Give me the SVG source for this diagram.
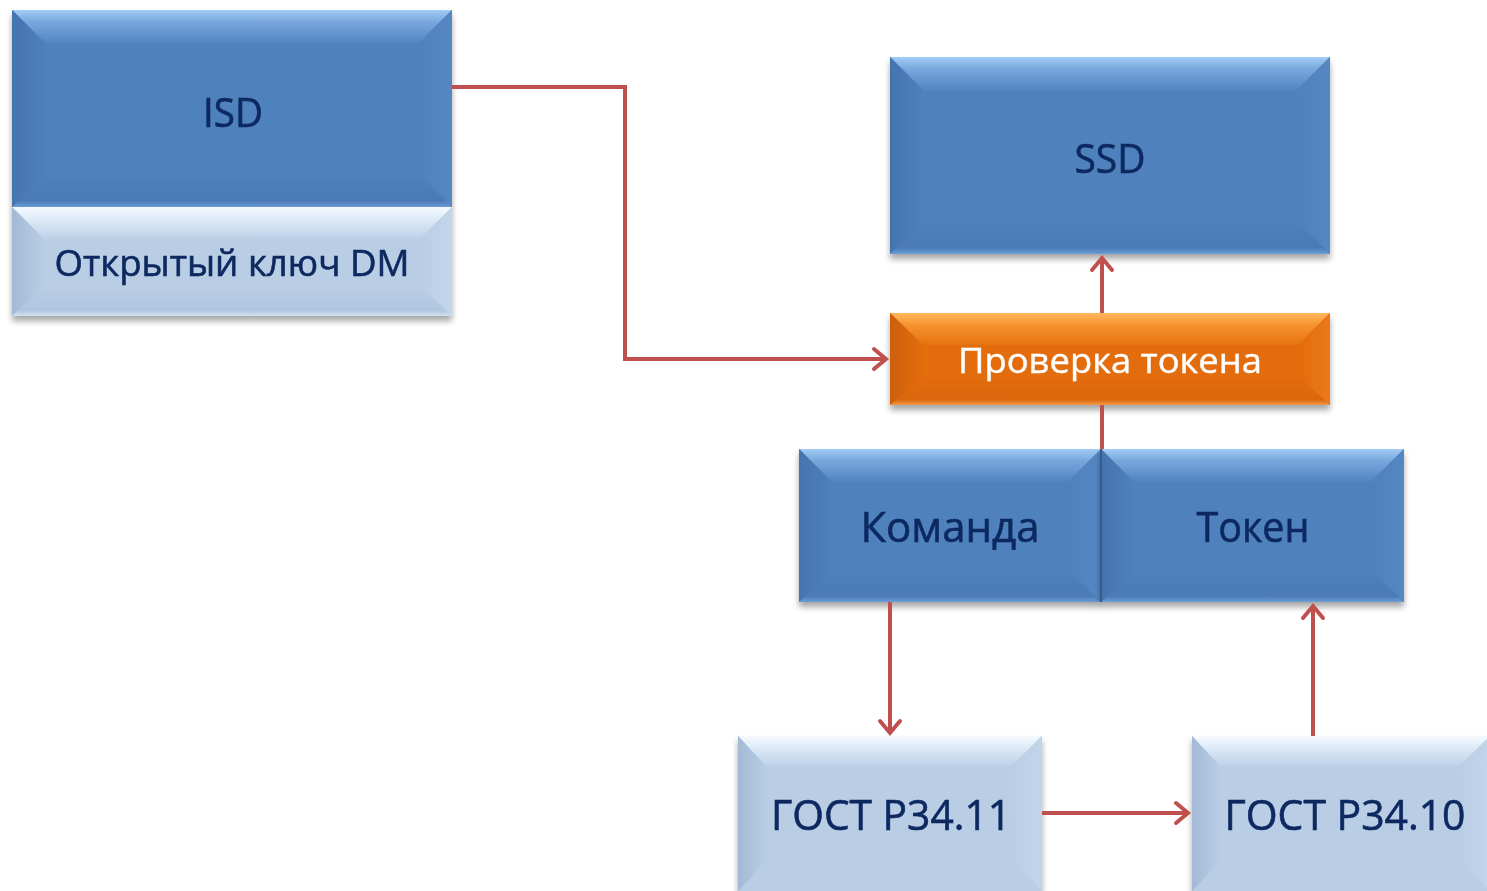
<svg xmlns="http://www.w3.org/2000/svg" width="1487" height="891" viewBox="0 0 1487 891">
  <defs>
    <style>
      .lbl { font-family: "Open Sans", "Noto Sans", "Liberation Sans", sans-serif; text-anchor: middle; fill: #0C2960; stroke: #0C2960; stroke-width: 0.6; }
      .wht { fill: #FFFFFF; stroke: #FFFFFF; stroke-width: 0.4; }
      .b-blue { fill: #4F81BD; }
      .b-lite { fill: #B9CDE5; }
      .b-org { fill: #E36C0A; }
      .conn { fill: none; stroke: #C0504D; stroke-width: 4; }
    </style>
    <!-- blue bevel faces -->
    <linearGradient id="gTopBlue" x1="0" y1="0" x2="0" y2="1">
      <stop offset="0" stop-color="#A3CCF5"/>
      <stop offset="0.35" stop-color="#78A7DD"/>
      <stop offset="1" stop-color="#5284C0"/>
    </linearGradient>
    <linearGradient id="gLeftBlue" x1="0" y1="0" x2="1" y2="0">
      <stop offset="0" stop-color="#4474AE"/>
      <stop offset="1" stop-color="#4F81BD"/>
    </linearGradient>
    <linearGradient id="gRightBlue" x1="0" y1="0" x2="1" y2="0">
      <stop offset="0" stop-color="#4F81BD"/>
      <stop offset="1" stop-color="#5687C3"/>
    </linearGradient>
    <linearGradient id="gBotBlue" x1="0" y1="0" x2="0" y2="1">
      <stop offset="0" stop-color="#4F81BD"/>
      <stop offset="0.8" stop-color="#4A7AB5"/>
      <stop offset="1" stop-color="#6D9DD5"/>
    </linearGradient>
    <!-- light bevel faces -->
    <linearGradient id="gTopLite" x1="0" y1="0" x2="0" y2="1">
      <stop offset="0" stop-color="#F6FAFF"/>
      <stop offset="0.4" stop-color="#DDEAF8"/>
      <stop offset="1" stop-color="#BCD0E7"/>
    </linearGradient>
    <linearGradient id="gLeftLite" x1="0" y1="0" x2="1" y2="0">
      <stop offset="0" stop-color="#A3B9D5"/>
      <stop offset="1" stop-color="#B9CDE5"/>
    </linearGradient>
    <linearGradient id="gRightLite" x1="0" y1="0" x2="1" y2="0">
      <stop offset="0" stop-color="#B9CDE5"/>
      <stop offset="1" stop-color="#C3D5EA"/>
    </linearGradient>
    <linearGradient id="gBotLite" x1="0" y1="0" x2="0" y2="1">
      <stop offset="0" stop-color="#B9CDE5"/>
      <stop offset="0.8" stop-color="#B0C5DF"/>
      <stop offset="1" stop-color="#D3E1F1"/>
    </linearGradient>
    <!-- orange bevel faces -->
    <linearGradient id="gTopOrg" x1="0" y1="0" x2="0" y2="1">
      <stop offset="0" stop-color="#FFB85E"/>
      <stop offset="0.4" stop-color="#F6912E"/>
      <stop offset="1" stop-color="#E6730F"/>
    </linearGradient>
    <linearGradient id="gLeftOrg" x1="0" y1="0" x2="1" y2="0">
      <stop offset="0" stop-color="#CD600A"/>
      <stop offset="1" stop-color="#E36C0A"/>
    </linearGradient>
    <linearGradient id="gRightOrg" x1="0" y1="0" x2="1" y2="0">
      <stop offset="0" stop-color="#E36C0A"/>
      <stop offset="1" stop-color="#E97A1C"/>
    </linearGradient>
    <linearGradient id="gBotOrg" x1="0" y1="0" x2="0" y2="1">
      <stop offset="0" stop-color="#E36C0A"/>
      <stop offset="0.8" stop-color="#DA6608"/>
      <stop offset="1" stop-color="#F29A4A"/>
    </linearGradient>
    <filter id="shadow" x="-10%" y="-10%" width="120%" height="130%">
      <feDropShadow dx="0" dy="5" stdDeviation="3" flood-color="#000000" flood-opacity="0.35"/>
    </filter>
    <marker id="arrow" markerUnits="userSpaceOnUse" viewBox="-16 -14 20 28" refX="0" refY="0" markerWidth="20" markerHeight="28" orient="auto" overflow="visible">
      <path d="M-12,-10 L0,0 L-12,10" fill="none" stroke="#C0504D" stroke-width="4" stroke-linecap="round" stroke-linejoin="miter"/>
    </marker>
  </defs>

  <rect width="1487" height="891" fill="#FFFFFF"/>

  <!-- ISD block with public key strip -->
  <g id="isd" filter="url(#shadow)">
    <rect class="b-blue" x="12" y="10" width="440" height="197"/>
    <polygon points="12,10 452,10 418,44 46,44" fill="url(#gTopBlue)"/>
    <polygon points="12,10 46,44 46,175 12,207" fill="url(#gLeftBlue)"/>
    <polygon points="452,10 452,207 420,175 418,44" fill="url(#gRightBlue)"/>
    <polygon points="12,207 46,175 420,175 452,207" fill="url(#gBotBlue)"/>
    <text class="lbl" x="233" y="127" font-size="41" textLength="60" lengthAdjust="spacingAndGlyphs">ISD</text>
  </g>
  <g id="isd-key" filter="url(#shadow)">
    <rect class="b-lite" x="12" y="207" width="440" height="109"/>
    <polygon points="12,207 452,207 420,239 44,239" fill="url(#gTopLite)"/>
    <polygon points="12,207 44,239 44,288 12,316" fill="url(#gLeftLite)"/>
    <polygon points="452,207 452,316 422,288 420,239" fill="url(#gRightLite)"/>
    <polygon points="12,316 44,288 422,288 452,316" fill="url(#gBotLite)"/>
    <text class="lbl" x="232" y="276" font-size="37" textLength="355" lengthAdjust="spacingAndGlyphs">Открытый ключ DM</text>
  </g>

  <!-- SSD -->
  <g id="ssd" filter="url(#shadow)">
    <rect class="b-blue" x="890" y="57" width="440" height="197"/>
    <polygon points="890,57 1330,57 1296,91 924,91" fill="url(#gTopBlue)"/>
    <polygon points="890,57 924,91 924,222 890,254" fill="url(#gLeftBlue)"/>
    <polygon points="1330,57 1330,254 1298,222 1296,91" fill="url(#gRightBlue)"/>
    <polygon points="890,254 924,222 1298,222 1330,254" fill="url(#gBotBlue)"/>
    <text class="lbl" x="1110" y="173" font-size="41" textLength="71" lengthAdjust="spacingAndGlyphs">SSD</text>
  </g>

  <!-- Token check -->
  <g id="check" filter="url(#shadow)">
    <rect class="b-org" x="890" y="313" width="440" height="92"/>
    <polygon points="890,313 1330,313 1298,345 923,345" fill="url(#gTopOrg)"/>
    <polygon points="890,313 923,345 923,378 890,405" fill="url(#gLeftOrg)"/>
    <polygon points="1330,313 1330,405 1300,378 1298,345" fill="url(#gRightOrg)"/>
    <polygon points="890,405 923,378 1300,378 1330,405" fill="url(#gBotOrg)"/>
    <text class="lbl wht" x="1110" y="373" font-size="35" textLength="304" lengthAdjust="spacingAndGlyphs">Проверка токена</text>
  </g>

  <!-- Command -->
  <g id="command" filter="url(#shadow)">
    <rect class="b-blue" x="799" y="449" width="302" height="153"/>
    <polygon points="799,449 1101,449 1068,482 832,482" fill="url(#gTopBlue)"/>
    <polygon points="799,449 832,482 832,572 799,602" fill="url(#gLeftBlue)"/>
    <polygon points="1101,449 1101,602 1070,572 1068,482" fill="url(#gRightBlue)"/>
    <polygon points="799,602 832,572 1070,572 1101,602" fill="url(#gBotBlue)"/>
    <text class="lbl" x="950" y="542" font-size="42" textLength="179" lengthAdjust="spacingAndGlyphs">Команда</text>
  </g>

  <!-- Token -->
  <g id="token" filter="url(#shadow)">
    <rect class="b-blue" x="1101" y="449" width="303" height="153"/>
    <polygon points="1101,449 1404,449 1371,482 1134,482" fill="url(#gTopBlue)"/>
    <polygon points="1101,449 1134,482 1134,572 1101,602" fill="url(#gLeftBlue)"/>
    <polygon points="1404,449 1404,602 1373,572 1371,482" fill="url(#gRightBlue)"/>
    <polygon points="1101,602 1134,572 1373,572 1404,602" fill="url(#gBotBlue)"/>
    <line x1="1101" y1="449" x2="1101" y2="602" stroke="#2E5386" stroke-width="1.5"/>
    <text class="lbl" x="1253" y="542" font-size="42" textLength="113" lengthAdjust="spacingAndGlyphs">Токен</text>
  </g>

  <!-- GOST R 34.11 -->
  <g id="gost3411" filter="url(#shadow)">
    <rect class="b-lite" x="738" y="736" width="304" height="160"/>
    <polygon points="738,736 1042,736 1012,766 766,766" fill="url(#gTopLite)"/>
    <polygon points="738,736 766,766 766,862 738,891" fill="url(#gLeftLite)"/>
    <polygon points="1042,736 1042,891 1014,862 1012,766" fill="url(#gRightLite)"/>
    <text class="lbl" x="891" y="830" font-size="42" textLength="240" lengthAdjust="spacingAndGlyphs">ГОСТ Р34.11</text>
  </g>

  <!-- GOST R 34.10 -->
  <g id="gost3410" filter="url(#shadow)">
    <rect class="b-lite" x="1192" y="736" width="300" height="160"/>
    <polygon points="1192,736 1490,736 1460,766 1220,766" fill="url(#gTopLite)"/>
    <polygon points="1192,736 1220,766 1220,862 1192,891" fill="url(#gLeftLite)"/>
    <polygon points="1490,736 1490,891 1462,862 1460,766" fill="url(#gRightLite)"/>
    <text class="lbl" x="1345" y="830" font-size="42" textLength="241" lengthAdjust="spacingAndGlyphs">ГОСТ Р34.10</text>
  </g>

  <!-- Connectors -->
  <g id="connectors">
    <polyline class="conn" points="452,87 625,87 625,359 886,359" marker-end="url(#arrow)"/>
    <line class="conn" x1="1102" y1="313" x2="1102" y2="258" marker-end="url(#arrow)"/>
    <line class="conn" x1="1102" y1="405" x2="1102" y2="449"/>
    <line class="conn" x1="890" y1="602" x2="890" y2="733" marker-end="url(#arrow)"/>
    <line class="conn" x1="1042" y1="813" x2="1188" y2="813" marker-end="url(#arrow)"/>
    <line class="conn" x1="1313" y1="736" x2="1313" y2="606" marker-end="url(#arrow)"/>
  </g>
</svg>
